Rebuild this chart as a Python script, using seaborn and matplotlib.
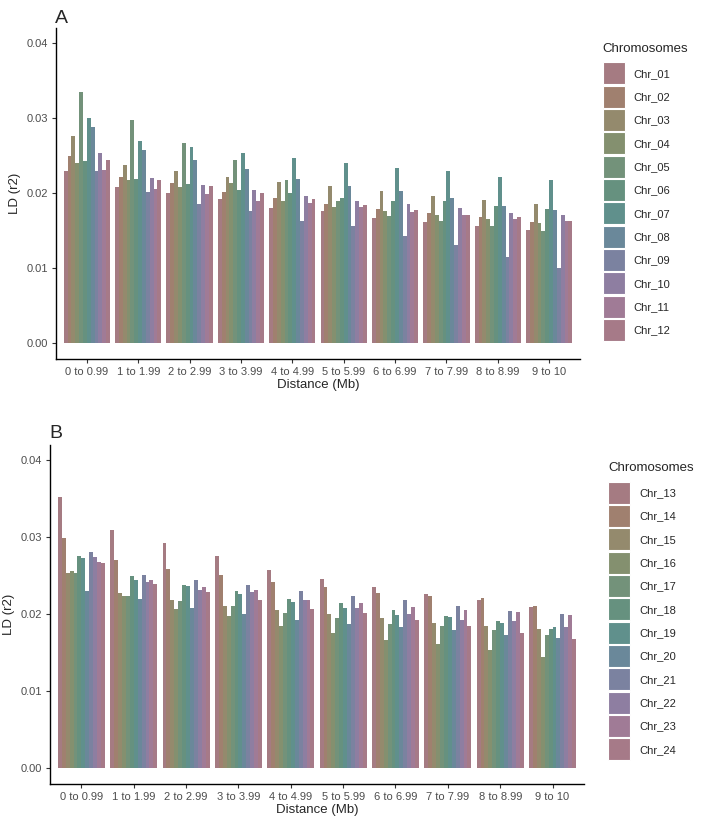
import pandas as pd
import numpy as np
import matplotlib
matplotlib.use("Agg")
import matplotlib.pyplot as plt
from matplotlib.ticker import FormatStrFormatter
import seaborn as sns

distances = ["0 to 0.99", "1 to 1.99", "2 to 2.99", "3 to 3.99", "4 to 4.99",
             "5 to 5.99", "6 to 6.99", "7 to 7.99", "8 to 8.99", "9 to 10"]

chroms_a = ["Chr_%02d" % i for i in range(1, 13)]
chroms_b = ["Chr_%02d" % i for i in range(13, 25)]

# LD (r2) per distance bin, one row per bin, one column per chromosome
ld_a = [
    [0.0229, 0.0250, 0.0276, 0.0240, 0.0335, 0.0243, 0.0300, 0.0288, 0.0230, 0.0253, 0.0231, 0.0244],
    [0.0208, 0.0222, 0.0238, 0.0217, 0.0297, 0.0219, 0.0270, 0.0258, 0.0201, 0.0220, 0.0205, 0.0217],
    [0.0200, 0.0213, 0.0229, 0.0208, 0.0267, 0.0212, 0.0262, 0.0244, 0.0186, 0.0211, 0.0199, 0.0209],
    [0.0192, 0.0202, 0.0222, 0.0213, 0.0244, 0.0204, 0.0254, 0.0232, 0.0176, 0.0204, 0.0190, 0.0200],
    [0.0180, 0.0194, 0.0215, 0.0189, 0.0217, 0.0200, 0.0247, 0.0219, 0.0163, 0.0196, 0.0187, 0.0192],
    [0.0176, 0.0186, 0.0209, 0.0182, 0.0190, 0.0194, 0.0240, 0.0209, 0.0156, 0.0190, 0.0181, 0.0184],
    [0.0167, 0.0179, 0.0203, 0.0176, 0.0169, 0.0190, 0.0233, 0.0203, 0.0143, 0.0185, 0.0175, 0.0178],
    [0.0161, 0.0173, 0.0196, 0.0171, 0.0163, 0.0190, 0.0230, 0.0194, 0.0131, 0.0180, 0.0171, 0.0171],
    [0.0156, 0.0168, 0.0191, 0.0165, 0.0156, 0.0183, 0.0221, 0.0183, 0.0115, 0.0174, 0.0166, 0.0168],
    [0.0151, 0.0162, 0.0185, 0.0160, 0.0150, 0.0179, 0.0217, 0.0177, 0.0100, 0.0171, 0.0163, 0.0163],
]

ld_b = [
    [0.0353, 0.0299, 0.0254, 0.0256, 0.0254, 0.0276, 0.0273, 0.0230, 0.0281, 0.0274, 0.0268, 0.0266],
    [0.0309, 0.0270, 0.0227, 0.0223, 0.0224, 0.0249, 0.0245, 0.0220, 0.0251, 0.0242, 0.0244, 0.0239],
    [0.0293, 0.0259, 0.0219, 0.0207, 0.0217, 0.0238, 0.0236, 0.0208, 0.0245, 0.0232, 0.0235, 0.0229],
    [0.0276, 0.0251, 0.0211, 0.0198, 0.0210, 0.0230, 0.0226, 0.0200, 0.0238, 0.0229, 0.0232, 0.0219],
    [0.0258, 0.0242, 0.0205, 0.0184, 0.0202, 0.0220, 0.0216, 0.0193, 0.0230, 0.0218, 0.0219, 0.0207],
    [0.0246, 0.0235, 0.0200, 0.0176, 0.0195, 0.0214, 0.0208, 0.0187, 0.0223, 0.0208, 0.0215, 0.0201],
    [0.0235, 0.0228, 0.0195, 0.0167, 0.0187, 0.0205, 0.0199, 0.0183, 0.0218, 0.0200, 0.0209, 0.0192],
    [0.0226, 0.0224, 0.0188, 0.0161, 0.0184, 0.0197, 0.0196, 0.0179, 0.0210, 0.0192, 0.0205, 0.0184],
    [0.0218, 0.0221, 0.0184, 0.0153, 0.0179, 0.0191, 0.0188, 0.0173, 0.0204, 0.0191, 0.0203, 0.0175],
    [0.0209, 0.0211, 0.0181, 0.0144, 0.0173, 0.0181, 0.0183, 0.0169, 0.0200, 0.0183, 0.0199, 0.0168],
]

colors = ["#a57b82", "#a0806f", "#948a6d", "#84906f", "#73927a", "#66917f",
          "#60908c", "#6a889a", "#7b82a0", "#8e7ea1", "#a07b96", "#a67a88"]


def to_long(values, chroms):
    rows = []
    for d, row in zip(distances, values):
        for c, v in zip(chroms, row):
            rows.append({"Distance": d, "Chromosome": c, "LD": v})
    return pd.DataFrame(rows)


def draw_panel(ax, df, chroms, legend_x, legend_y):
    sns.barplot(data=df, x="Distance", y="LD", hue="Chromosome", hue_order=chroms,
                order=distances, palette=colors, width=0.9, gap=0, linewidth=0,
                saturation=1, errorbar=None, ax=ax)
    ax.set_xlim(-0.6, 9.6)
    ax.set_ylim(-0.0021, 0.042)
    ax.set_yticks([0, 0.01, 0.02, 0.03, 0.04])
    ax.yaxis.set_major_formatter(FormatStrFormatter("%.2f"))
    ax.set_xlabel("Distance (Mb)", fontsize=9.5, labelpad=2)
    ax.set_ylabel("LD (r2)", fontsize=9.5, labelpad=4)
    ax.tick_params(axis="both", labelsize=8, labelcolor="#4d4d4d", color="#333333",
                   length=3, width=0.8, bottom=True, left=True, pad=2.5)
    for s in ["top", "right"]:
        ax.spines[s].set_visible(False)
    for s in ["left", "bottom"]:
        ax.spines[s].set_linewidth(1.0)
        ax.spines[s].set_color("black")
    sns.move_legend(ax, "upper left", bbox_to_anchor=(legend_x, legend_y),
                    bbox_transform=ax.figure.transFigure, title="Chromosomes",
                    frameon=False, fontsize=8, title_fontsize=9.5,
                    handlelength=2.0, handleheight=2.67, labelspacing=0.12,
                    handletextpad=0.8, borderaxespad=0, borderpad=0)
    leg = ax.get_legend()
    leg._legend_box.align = "left"
    leg._legend_box.sep = 5.5
    for h in leg.legend_handles:
        h.set_edgecolor("white")
        h.set_linewidth(0.8)


sns.set_theme(style="ticks")
plt.rcParams["font.family"] = ["Liberation Sans", "DejaVu Sans"]

fig = plt.figure(figsize=(7.08, 8.22), dpi=100)
ax_a = fig.add_axes([0.0791, 0.5633, 0.7401, 0.4026])
ax_b = fig.add_axes([0.0706, 0.0462, 0.7542, 0.4124])

draw_panel(ax_a, to_long(ld_a, chroms_a), chroms_a, 0.851, 0.948)
draw_panel(ax_b, to_long(ld_b, chroms_b), chroms_b, 0.859, 0.438)

fig.text(0.077, 0.978, "A", fontsize=14, va="center", ha="left")
fig.text(0.070, 0.473, "B", fontsize=14, va="center", ha="left")

fig.savefig("out.png", dpi=100)
